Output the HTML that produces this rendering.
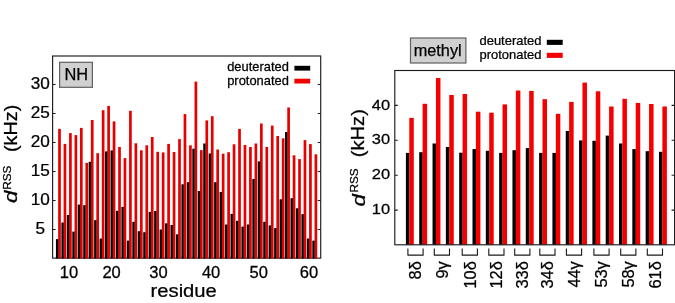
<!DOCTYPE html>
<html><head><meta charset="utf-8"><title>dRSS</title>
<style>
html,body{margin:0;padding:0;background:#fff;}
svg{display:block;}
text{font-family:"Liberation Sans",sans-serif;fill:#000;stroke:#000;stroke-width:0.25px;}
</style></head><body>
<svg width="675" height="303" viewBox="0 0 675 303">
<rect width="675" height="303" fill="#fff"/>

<rect x="52.6" y="56.0" width="268.1" height="202.1" fill="none" stroke="#1c1c1c" stroke-width="1.15"/>
<g>
<rect x="58.15" y="128.9" width="2.7" height="129.6" fill="#e60000"/>
<rect x="55.95" y="239.1" width="2.35" height="19.4" fill="#000"/>
<rect x="63.60" y="143.9" width="2.7" height="114.6" fill="#e60000"/>
<rect x="61.41" y="222.5" width="2.35" height="36.0" fill="#000"/>
<rect x="69.06" y="133.1" width="2.7" height="125.4" fill="#e60000"/>
<rect x="66.86" y="215.0" width="2.35" height="43.5" fill="#000"/>
<rect x="74.52" y="135.1" width="2.7" height="123.4" fill="#e60000"/>
<rect x="72.31" y="231.6" width="2.35" height="26.9" fill="#000"/>
<rect x="79.97" y="127.9" width="2.7" height="130.6" fill="#e60000"/>
<rect x="77.77" y="204.6" width="2.35" height="53.9" fill="#000"/>
<rect x="85.42" y="162.9" width="2.7" height="95.6" fill="#e60000"/>
<rect x="83.22" y="205.2" width="2.35" height="53.3" fill="#000"/>
<rect x="90.88" y="120.0" width="2.7" height="138.5" fill="#e60000"/>
<rect x="88.68" y="161.8" width="2.35" height="96.7" fill="#000"/>
<rect x="96.34" y="153.2" width="2.7" height="105.3" fill="#e60000"/>
<rect x="94.14" y="220.2" width="2.35" height="38.3" fill="#000"/>
<rect x="101.79" y="110.2" width="2.7" height="148.3" fill="#e60000"/>
<rect x="99.59" y="238.5" width="2.35" height="20.0" fill="#000"/>
<rect x="107.25" y="106.0" width="2.7" height="152.5" fill="#e60000"/>
<rect x="105.05" y="151.4" width="2.35" height="107.1" fill="#000"/>
<rect x="112.70" y="121.4" width="2.7" height="137.1" fill="#e60000"/>
<rect x="110.50" y="150.4" width="2.35" height="108.1" fill="#000"/>
<rect x="118.16" y="147.0" width="2.7" height="111.5" fill="#e60000"/>
<rect x="115.96" y="210.8" width="2.35" height="47.7" fill="#000"/>
<rect x="123.61" y="158.1" width="2.7" height="100.4" fill="#e60000"/>
<rect x="121.41" y="206.9" width="2.35" height="51.6" fill="#000"/>
<rect x="129.06" y="110.8" width="2.7" height="147.7" fill="#e60000"/>
<rect x="126.87" y="240.6" width="2.35" height="17.9" fill="#000"/>
<rect x="134.52" y="143.3" width="2.7" height="115.2" fill="#e60000"/>
<rect x="132.32" y="221.8" width="2.35" height="36.7" fill="#000"/>
<rect x="139.97" y="150.3" width="2.7" height="108.2" fill="#e60000"/>
<rect x="137.78" y="231.2" width="2.35" height="27.3" fill="#000"/>
<rect x="145.43" y="145.3" width="2.7" height="113.2" fill="#e60000"/>
<rect x="143.23" y="232.2" width="2.35" height="26.3" fill="#000"/>
<rect x="150.88" y="137.0" width="2.7" height="121.5" fill="#e60000"/>
<rect x="148.69" y="211.9" width="2.35" height="46.6" fill="#000"/>
<rect x="156.34" y="151.8" width="2.7" height="106.7" fill="#e60000"/>
<rect x="154.14" y="211.0" width="2.35" height="47.5" fill="#000"/>
<rect x="161.79" y="152.4" width="2.7" height="106.1" fill="#e60000"/>
<rect x="159.59" y="229.5" width="2.35" height="29.0" fill="#000"/>
<rect x="167.25" y="143.9" width="2.7" height="114.6" fill="#e60000"/>
<rect x="165.05" y="223.3" width="2.35" height="35.2" fill="#000"/>
<rect x="172.71" y="152.0" width="2.7" height="106.5" fill="#e60000"/>
<rect x="170.50" y="225.0" width="2.35" height="33.5" fill="#000"/>
<rect x="178.16" y="139.1" width="2.7" height="119.4" fill="#e60000"/>
<rect x="175.96" y="234.3" width="2.35" height="24.2" fill="#000"/>
<rect x="183.62" y="114.1" width="2.7" height="144.4" fill="#e60000"/>
<rect x="181.42" y="184.3" width="2.35" height="74.2" fill="#000"/>
<rect x="189.07" y="145.3" width="2.7" height="113.2" fill="#e60000"/>
<rect x="186.87" y="182.2" width="2.35" height="76.3" fill="#000"/>
<rect x="194.53" y="81.6" width="2.7" height="176.9" fill="#e60000"/>
<rect x="192.32" y="148.7" width="2.35" height="109.8" fill="#000"/>
<rect x="199.98" y="150.1" width="2.7" height="108.4" fill="#e60000"/>
<rect x="197.78" y="191.0" width="2.35" height="67.5" fill="#000"/>
<rect x="205.44" y="120.4" width="2.7" height="138.1" fill="#e60000"/>
<rect x="203.24" y="143.5" width="2.35" height="115.0" fill="#000"/>
<rect x="210.89" y="116.2" width="2.7" height="142.3" fill="#e60000"/>
<rect x="208.69" y="153.5" width="2.35" height="105.0" fill="#000"/>
<rect x="216.34" y="149.5" width="2.7" height="109.0" fill="#e60000"/>
<rect x="214.14" y="182.2" width="2.35" height="76.3" fill="#000"/>
<rect x="221.80" y="153.7" width="2.7" height="104.8" fill="#e60000"/>
<rect x="219.60" y="192.0" width="2.35" height="66.5" fill="#000"/>
<rect x="227.25" y="152.2" width="2.7" height="106.3" fill="#e60000"/>
<rect x="225.06" y="224.5" width="2.35" height="34.0" fill="#000"/>
<rect x="232.71" y="144.3" width="2.7" height="114.2" fill="#e60000"/>
<rect x="230.51" y="213.9" width="2.35" height="44.6" fill="#000"/>
<rect x="238.17" y="128.9" width="2.7" height="129.6" fill="#e60000"/>
<rect x="235.97" y="220.8" width="2.35" height="37.7" fill="#000"/>
<rect x="243.62" y="144.9" width="2.7" height="113.6" fill="#e60000"/>
<rect x="241.42" y="226.6" width="2.35" height="31.9" fill="#000"/>
<rect x="249.08" y="147.0" width="2.7" height="111.5" fill="#e60000"/>
<rect x="246.88" y="224.5" width="2.35" height="34.0" fill="#000"/>
<rect x="254.53" y="143.5" width="2.7" height="115.0" fill="#e60000"/>
<rect x="252.33" y="178.9" width="2.35" height="79.6" fill="#000"/>
<rect x="259.99" y="123.5" width="2.7" height="135.0" fill="#e60000"/>
<rect x="257.79" y="161.4" width="2.35" height="97.1" fill="#000"/>
<rect x="265.44" y="147.0" width="2.7" height="111.5" fill="#e60000"/>
<rect x="263.24" y="221.8" width="2.35" height="36.7" fill="#000"/>
<rect x="270.89" y="125.6" width="2.7" height="132.9" fill="#e60000"/>
<rect x="268.69" y="225.4" width="2.35" height="33.1" fill="#000"/>
<rect x="276.35" y="136.0" width="2.7" height="122.5" fill="#e60000"/>
<rect x="274.15" y="228.1" width="2.35" height="30.4" fill="#000"/>
<rect x="281.81" y="138.3" width="2.7" height="120.2" fill="#e60000"/>
<rect x="279.61" y="199.3" width="2.35" height="59.2" fill="#000"/>
<rect x="287.26" y="107.5" width="2.7" height="151.0" fill="#e60000"/>
<rect x="285.06" y="132.0" width="2.35" height="126.5" fill="#000"/>
<rect x="292.71" y="155.3" width="2.7" height="103.2" fill="#e60000"/>
<rect x="290.51" y="198.2" width="2.35" height="60.3" fill="#000"/>
<rect x="298.17" y="159.1" width="2.7" height="99.4" fill="#e60000"/>
<rect x="295.97" y="208.3" width="2.35" height="50.2" fill="#000"/>
<rect x="303.62" y="140.1" width="2.7" height="118.4" fill="#e60000"/>
<rect x="301.43" y="214.1" width="2.35" height="44.4" fill="#000"/>
<rect x="309.08" y="144.1" width="2.7" height="114.4" fill="#e60000"/>
<rect x="306.88" y="238.5" width="2.35" height="20.0" fill="#000"/>
<rect x="314.53" y="154.3" width="2.7" height="104.2" fill="#e60000"/>
<rect x="312.33" y="240.6" width="2.35" height="17.9" fill="#000"/>
</g>
<path d="M52.6 229.5h3 M320.7 229.5h-3" stroke="#1c1c1c" stroke-width="1.1"/>
<text transform="translate(40.30,233.80) scale(1.1,1)" font-size="15.6" text-anchor="middle">5</text>
<path d="M52.6 200.5h3 M320.7 200.5h-3" stroke="#1c1c1c" stroke-width="1.1"/>
<text transform="translate(40.30,204.80) scale(1.1,1)" font-size="15.6" text-anchor="middle">10</text>
<path d="M52.6 171.5h3 M320.7 171.5h-3" stroke="#1c1c1c" stroke-width="1.1"/>
<text transform="translate(40.30,175.80) scale(1.1,1)" font-size="15.6" text-anchor="middle">15</text>
<path d="M52.6 142.5h3 M320.7 142.5h-3" stroke="#1c1c1c" stroke-width="1.1"/>
<text transform="translate(40.30,146.80) scale(1.1,1)" font-size="15.6" text-anchor="middle">20</text>
<path d="M52.6 113.5h3 M320.7 113.5h-3" stroke="#1c1c1c" stroke-width="1.1"/>
<text transform="translate(40.30,117.80) scale(1.1,1)" font-size="15.6" text-anchor="middle">25</text>
<path d="M52.6 84.5h3 M320.7 84.5h-3" stroke="#1c1c1c" stroke-width="1.1"/>
<text transform="translate(40.30,88.80) scale(1.1,1)" font-size="15.6" text-anchor="middle">30</text>
<text transform="translate(69.00,277.60) scale(1.06,1)" font-size="15.6" text-anchor="middle">10</text>
<text transform="translate(111.60,277.60) scale(1.06,1)" font-size="15.6" text-anchor="middle">20</text>
<text transform="translate(158.50,277.60) scale(1.06,1)" font-size="15.6" text-anchor="middle">30</text>
<text transform="translate(211.10,277.60) scale(1.06,1)" font-size="15.6" text-anchor="middle">40</text>
<text transform="translate(258.80,277.60) scale(1.06,1)" font-size="15.6" text-anchor="middle">50</text>
<text transform="translate(308.90,277.60) scale(1.06,1)" font-size="15.6" text-anchor="middle">60</text>
<text transform="translate(183.70,296.50) scale(1.065,1)" font-size="19.0" text-anchor="middle">residue</text>
<rect x="59.6" y="62.3" width="32.8" height="25" fill="#d0d0d0" stroke="#606060" stroke-width="1.2"/>
<text transform="translate(76.30,79.80)" font-size="16.4" text-anchor="middle">NH</text>
<text transform="translate(227.20,70.90) scale(1.04,1)" font-size="12.4" text-anchor="start">deuterated</text>
<text transform="translate(227.20,85.20) scale(1.04,1)" font-size="12.4" text-anchor="start">protonated</text>
<rect x="294.4" y="65.8" width="15.8" height="4.8" fill="#000"/>
<rect x="294.4" y="78.7" width="15.8" height="4.8" fill="#f40000"/>
<text transform="translate(17.40,203.00) rotate(-90) scale(1.19,1)" font-size="18.6" text-anchor="start" font-style="italic">d</text>
<text transform="translate(11.40,189.80) rotate(-90) scale(1.18,1)" font-size="10" text-anchor="start">RSS</text>
<text transform="translate(16.80,152.00) rotate(-90) scale(1.07,1)" font-size="18.5" text-anchor="start">(kHz)</text>
<g>
<rect x="405.90" y="152.9" width="3.5" height="91.9" fill="#000"/>
<rect x="409.30" y="117.9" width="4.5" height="126.9" fill="#f40000"/>
<rect x="419.22" y="152.2" width="3.5" height="92.6" fill="#000"/>
<rect x="422.62" y="103.8" width="4.5" height="141.0" fill="#f40000"/>
<rect x="432.54" y="143.5" width="3.5" height="101.3" fill="#000"/>
<rect x="435.94" y="78.0" width="4.5" height="166.8" fill="#f40000"/>
<rect x="445.86" y="147.0" width="3.5" height="97.8" fill="#000"/>
<rect x="449.26" y="95.0" width="4.5" height="149.8" fill="#f40000"/>
<rect x="459.18" y="152.7" width="3.5" height="92.1" fill="#000"/>
<rect x="462.58" y="94.0" width="4.5" height="150.8" fill="#f40000"/>
<rect x="472.50" y="149.1" width="3.5" height="95.7" fill="#000"/>
<rect x="475.90" y="111.7" width="4.5" height="133.1" fill="#f40000"/>
<rect x="485.82" y="150.8" width="3.5" height="94.0" fill="#000"/>
<rect x="489.22" y="112.7" width="4.5" height="132.1" fill="#f40000"/>
<rect x="499.14" y="152.9" width="3.5" height="91.9" fill="#000"/>
<rect x="502.54" y="104.4" width="4.5" height="140.4" fill="#f40000"/>
<rect x="512.46" y="150.2" width="3.5" height="94.6" fill="#000"/>
<rect x="515.86" y="90.5" width="4.5" height="154.3" fill="#f40000"/>
<rect x="525.78" y="148.1" width="3.5" height="96.7" fill="#000"/>
<rect x="529.18" y="90.9" width="4.5" height="153.9" fill="#f40000"/>
<rect x="539.10" y="152.9" width="3.5" height="91.9" fill="#000"/>
<rect x="542.50" y="99.2" width="4.5" height="145.6" fill="#f40000"/>
<rect x="552.42" y="152.9" width="3.5" height="91.9" fill="#000"/>
<rect x="555.82" y="113.8" width="4.5" height="131.0" fill="#f40000"/>
<rect x="565.74" y="131.0" width="3.5" height="113.8" fill="#000"/>
<rect x="569.14" y="101.9" width="4.5" height="142.9" fill="#f40000"/>
<rect x="579.06" y="140.4" width="3.5" height="104.4" fill="#000"/>
<rect x="582.46" y="82.6" width="4.5" height="162.2" fill="#f40000"/>
<rect x="592.38" y="140.8" width="3.5" height="104.0" fill="#000"/>
<rect x="595.78" y="91.3" width="4.5" height="153.5" fill="#f40000"/>
<rect x="605.70" y="135.6" width="3.5" height="109.2" fill="#000"/>
<rect x="609.10" y="106.5" width="4.5" height="138.3" fill="#f40000"/>
<rect x="619.02" y="143.5" width="3.5" height="101.3" fill="#000"/>
<rect x="622.42" y="98.8" width="4.5" height="146.0" fill="#f40000"/>
<rect x="632.34" y="149.1" width="3.5" height="95.7" fill="#000"/>
<rect x="635.74" y="102.9" width="4.5" height="141.9" fill="#f40000"/>
<rect x="645.66" y="151.2" width="3.5" height="93.6" fill="#000"/>
<rect x="649.06" y="104.0" width="4.5" height="140.8" fill="#f40000"/>
<rect x="658.98" y="151.8" width="3.5" height="93.0" fill="#000"/>
<rect x="662.38" y="106.5" width="4.5" height="138.3" fill="#f40000"/>
</g>
<rect x="394.8" y="70.5" width="279.8" height="174.3" fill="none" stroke="#1c1c1c" stroke-width="1.15"/>
<path d="M394.8 210.1h3 M674.6 210.1h-3" stroke="#1c1c1c" stroke-width="1.1"/>
<text transform="translate(381.00,214.20) scale(1.06,1)" font-size="15.5" text-anchor="middle">10</text>
<path d="M394.8 175.2h3 M674.6 175.2h-3" stroke="#1c1c1c" stroke-width="1.1"/>
<text transform="translate(381.00,179.40) scale(1.06,1)" font-size="15.5" text-anchor="middle">20</text>
<path d="M394.8 140.3h3 M674.6 140.3h-3" stroke="#1c1c1c" stroke-width="1.1"/>
<text transform="translate(381.00,143.70) scale(1.06,1)" font-size="15.5" text-anchor="middle">30</text>
<path d="M394.8 105.4h3 M674.6 105.4h-3" stroke="#1c1c1c" stroke-width="1.1"/>
<text transform="translate(381.00,109.80) scale(1.06,1)" font-size="15.5" text-anchor="middle">40</text>
<path d="M407.9 248.4v6.7h15.2v-6.7" fill="none" stroke="#1a1a1a" stroke-width="1.1"/>
<text transform="translate(421.30,261.20) rotate(-90) scale(1.05,1)" font-size="15.6" text-anchor="end">8δ</text>
<path d="M434.3 248.4v6.7h15.2v-6.7" fill="none" stroke="#1a1a1a" stroke-width="1.1"/>
<text transform="translate(447.70,261.20) rotate(-90) scale(1.05,1)" font-size="15.6" text-anchor="end">9γ</text>
<path d="M462.2 248.4v6.7h15.2v-6.7" fill="none" stroke="#1a1a1a" stroke-width="1.1"/>
<text transform="translate(475.60,261.20) rotate(-90) scale(1.05,1)" font-size="15.6" text-anchor="end">10δ</text>
<path d="M488.8 248.4v6.7h15.2v-6.7" fill="none" stroke="#1a1a1a" stroke-width="1.1"/>
<text transform="translate(502.20,261.20) rotate(-90) scale(1.05,1)" font-size="15.6" text-anchor="end">12δ</text>
<path d="M514.7 248.4v6.7h15.2v-6.7" fill="none" stroke="#1a1a1a" stroke-width="1.1"/>
<text transform="translate(528.10,261.20) rotate(-90) scale(1.05,1)" font-size="15.6" text-anchor="end">33δ</text>
<path d="M539.8 248.4v6.7h15.2v-6.7" fill="none" stroke="#1a1a1a" stroke-width="1.1"/>
<text transform="translate(553.20,261.20) rotate(-90) scale(1.05,1)" font-size="15.6" text-anchor="end">34δ</text>
<path d="M566.4 248.4v6.7h15.2v-6.7" fill="none" stroke="#1a1a1a" stroke-width="1.1"/>
<text transform="translate(579.80,261.20) rotate(-90) scale(1.05,1)" font-size="15.6" text-anchor="end">44γ</text>
<path d="M593.9 248.4v6.7h15.2v-6.7" fill="none" stroke="#1a1a1a" stroke-width="1.1"/>
<text transform="translate(607.30,261.20) rotate(-90) scale(1.05,1)" font-size="15.6" text-anchor="end">53γ</text>
<path d="M620.7 248.4v6.7h15.2v-6.7" fill="none" stroke="#1a1a1a" stroke-width="1.1"/>
<text transform="translate(634.10,261.20) rotate(-90) scale(1.05,1)" font-size="15.6" text-anchor="end">58γ</text>
<path d="M647.3 248.4v6.7h15.2v-6.7" fill="none" stroke="#1a1a1a" stroke-width="1.1"/>
<text transform="translate(660.70,261.20) rotate(-90) scale(1.05,1)" font-size="15.6" text-anchor="end">61δ</text>
<rect x="410.5" y="38.0" width="55.4" height="25" fill="#d0d0d0" stroke="#606060" stroke-width="1.2"/>
<text transform="translate(437.70,56.10)" font-size="16.3" text-anchor="middle">methyl</text>
<text transform="translate(479.50,45.30) scale(1.045,1)" font-size="12.4" text-anchor="start">deuterated</text>
<text transform="translate(479.50,58.90) scale(1.045,1)" font-size="12.4" text-anchor="start">protonated</text>
<rect x="546.8" y="39.8" width="15.9" height="5.1" fill="#000"/>
<rect x="546.8" y="52.8" width="15.9" height="5.1" fill="#f40000"/>
<text transform="translate(364.80,206.60) rotate(-90) scale(1.19,1)" font-size="18.6" text-anchor="start" font-style="italic">d</text>
<text transform="translate(358.40,192.60) rotate(-90) scale(1.15,1)" font-size="10.3" text-anchor="start">RSS</text>
<text transform="translate(364.30,157.30) rotate(-90) scale(1.093,1)" font-size="18.5" text-anchor="start">(kHz)</text>
</svg></body></html>
